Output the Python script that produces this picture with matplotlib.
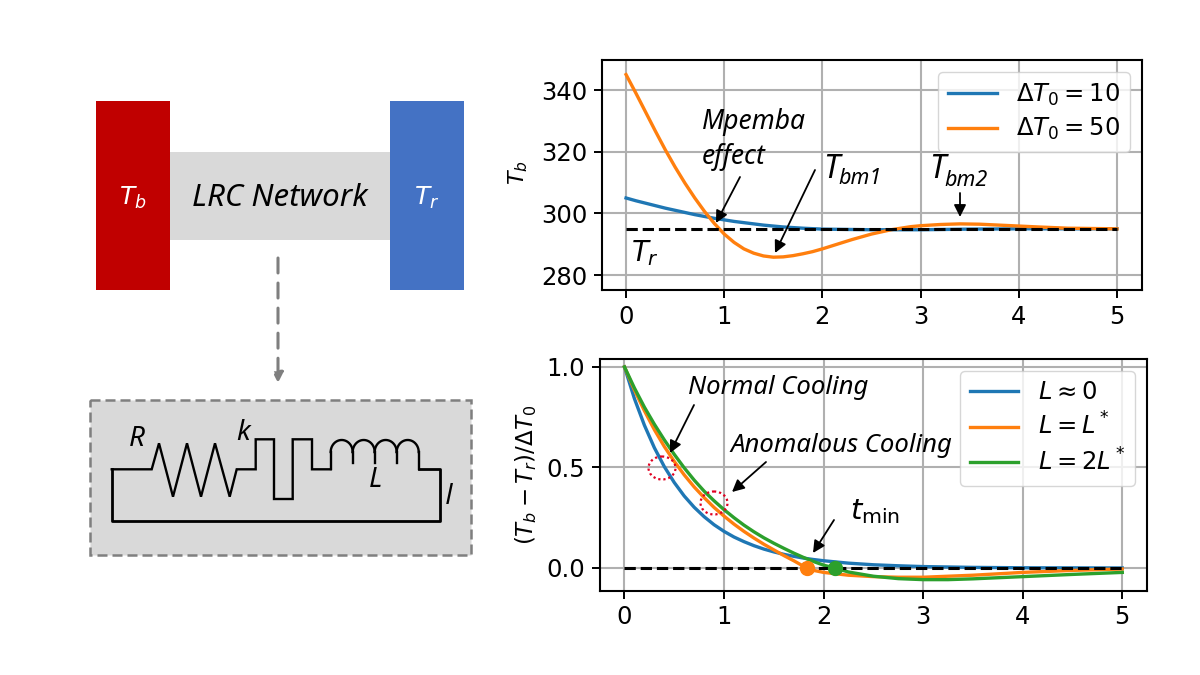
import numpy as np
import matplotlib
matplotlib.use('Agg')
import matplotlib.pyplot as plt
from matplotlib.patches import Rectangle, Ellipse

plt.rcParams['mathtext.fontset'] = 'dejavusans'

# top panel
t_top_blue = [0, 0.1, 0.2, 0.3, 0.4, 0.5, 0.6, 0.7, 0.8, 0.9, 1, 1.1, 1.2, 1.3, 1.4, 1.5, 1.6, 1.8, 2, 2.5, 3, 3.5, 4, 5]
T_blue = [305, 304.1, 303.3, 302.5, 301.7, 301, 300.3, 299.6, 299, 298.4, 297.9, 297.4, 297, 296.6, 296.2, 295.9,
          295.6, 295.2, 294.9, 294.7, 294.7, 294.9, 295, 295]
t_top_orange = [0, 0.1, 0.2, 0.3, 0.4, 0.5, 0.6, 0.7, 0.8, 0.9, 1.0, 1.1, 1.2, 1.3, 1.4, 1.5, 1.6, 1.7,
                1.8, 1.9, 2.0, 2.1, 2.2, 2.3, 2.4, 2.5, 2.6, 2.7, 2.8, 2.9, 3.0, 3.2, 3.4, 3.6, 3.8, 4.0, 4.2, 4.5, 5]
T_orange = [345, 339, 332.8, 326.6, 320.6, 315, 309.8, 305, 300.6, 296.7, 293.3, 290.6, 288.5, 287.1, 286.2,
            285.8, 285.9, 286.3, 286.9, 287.6, 288.5, 289.5, 290.5, 291.5, 292.4, 293.3, 294, 294.7, 295.2, 295.7,
            296, 296.4, 296.6, 296.5, 296.2, 295.9, 295.6, 295.2, 295]
T_room = 295

# bottom panel
t_blue = [0, 0.1, 0.2, 0.3, 0.4, 0.5, 0.6, 0.7, 0.8, 0.9, 1, 1.1, 1.2, 1.3, 1.4, 1.5, 1.6, 1.7, 1.8, 1.9, 2,
          2.25, 2.5, 2.75, 3, 3.5, 4, 5]
y_blue = [1, 0.842, 0.71, 0.598, 0.504, 0.425, 0.358, 0.302, 0.255, 0.215, 0.182, 0.154, 0.131, 0.111, 0.094, 0.08,
          0.068, 0.058, 0.049, 0.042, 0.036, 0.024, 0.016, 0.011, 0.007, 0.003, 0.001, 0]
t_orange = [0, 0.1, 0.2, 0.3, 0.4, 0.5, 0.6, 0.7, 0.8, 0.9, 1, 1.1, 1.2, 1.3, 1.4, 1.5, 1.6, 1.7, 1.8, 1.83, 1.9, 2,
            2.25, 2.5, 2.75, 3, 3.5, 4, 4.5, 5]
y_orange = [1, 0.885, 0.782, 0.688, 0.604, 0.53, 0.463, 0.403, 0.35, 0.301, 0.258, 0.218, 0.182, 0.149, 0.118, 0.09,
            0.062, 0.036, 0.008, 0, -0.012, -0.022, -0.036, -0.043, -0.046, -0.046, -0.036, -0.022, -0.012, -0.005]
t_green = [0, 0.1, 0.2, 0.3, 0.4, 0.5, 0.6, 0.7, 0.8, 0.9, 1, 1.1, 1.2, 1.3, 1.4, 1.5, 1.6, 1.7, 1.8, 1.9, 2, 2.11,
           2.25, 2.5, 2.75, 3, 3.25, 3.5, 4, 4.5, 5]
y_green = [1, 0.895, 0.8, 0.715, 0.637, 0.565, 0.498, 0.437, 0.382, 0.334, 0.29, 0.25, 0.213, 0.18, 0.15, 0.123,
           0.098, 0.074, 0.052, 0.032, 0.014, 0, -0.02, -0.041, -0.053, -0.058, -0.058, -0.054, -0.043, -0.032, -0.022]
t_min_orange = 1.83
t_min_green = 2.11

top_ticks = [280, 300, 320, 340]
bottom_ticks = [0.0, 0.5, 1.0]
x_ticks = [0, 1, 2, 3, 4, 5]

# circuit outline in picture pixels
wire_a_x = [111.7, 151.7, 159, 173, 187, 201, 215, 229.7, 236.7, 255.7, 255.7, 274, 274, 292.7, 292.7, 312, 312, 330.7]
wire_a_y = [469.3, 469.3, 443.3, 496.7, 443.3, 496.7, 443.3, 496.7, 469.3, 469.3, 439.3, 439.3, 499, 499, 439.3, 439.3, 469.3, 469.3]
wire_b_x = [418.7, 440, 440, 111.7, 111.7]
wire_b_y = [469.3, 469.3, 521.3, 521.3, 469.3]
coil_starts = [330.7, 352.7, 374.7, 396.7]

fig = plt.figure(figsize=(12, 6.75), dpi=100)
W, H = 1200, 675

def axes_px(l, t, r, b):
    return fig.add_axes([l / W, 1 - b / H, (r - l) / W, (b - t) / H])

ax1 = axes_px(602, 59.5, 1142, 290.5)
ax1.plot(t_top_blue, T_blue, color='C0', lw=2.4, label=r'$\Delta T_0 = 10$')
ax1.plot(t_top_orange, T_orange, color='C1', lw=2.4, label=r'$\Delta T_0 = 50$')
ax1.plot([0, 5], [T_room, T_room], 'k--', lw=2.2)
ax1.set_xlim(-0.245, 5.255)
ax1.set_ylim(275, 349.9)
ax1.set_yticks(top_ticks)
ax1.set_xticks(x_ticks)
ax1.grid(True, color='#b0b0b0', lw=1.5)
ax1.tick_params(labelsize=17.5, width=1.4, length=5.5, pad=5)
ax1.legend(loc='upper right', fontsize=17.5, labelspacing=0.35)

ax2 = axes_px(600, 358.5, 1147, 590.5)
ax2.plot(t_blue, y_blue, color='C0', lw=2.4, label=r'$L \approx 0$')
ax2.plot(t_orange, y_orange, color='C1', lw=2.4, label=r'$L = L^*$')
ax2.plot(t_green, y_green, color='C2', lw=2.4, label=r'$L = 2L^*$')
ax2.plot([0, 5], [0, 0], 'k--', lw=2.2)
ax2.plot(t_min_orange, 0, 'o', color='C1', ms=10)
ax2.plot(t_min_green, 0, 'o', color='C2', ms=10)
ax2.set_xlim(-0.246, 5.248)
ax2.set_ylim(-0.112, 1.042)
ax2.set_yticks(bottom_ticks)
ax2.set_xticks(x_ticks)
ax2.grid(True, color='#b0b0b0', lw=1.5)
ax2.tick_params(labelsize=17.5, width=1.4, length=5.5, pad=5)
ax2.legend(loc='upper right', fontsize=17.5, labelspacing=0.35)
for ax in (ax1, ax2):
    for s in ax.spines.values():
        s.set_linewidth(1.5)

# overlay in pixels for the diagram and the notes
ov = fig.add_axes([0, 0, 1, 1], zorder=5)
ov.set_xlim(0, W)
ov.set_ylim(H, 0)
ov.axis('off')
ov.patch.set_alpha(0)

ov.text(518, 173, r'$T_b$', fontsize=16, rotation=90, ha='center', va='center')
ov.text(526, 475, r'$(T_b - T_r)/\Delta T_0$', fontsize=16.5, rotation=90, ha='center', va='center')

ov.add_patch(Rectangle((170, 152), 220, 88, color='#d9d9d9', lw=0))
ov.add_patch(Rectangle((96, 101), 74, 189, color='#c00000', lw=0))
ov.add_patch(Rectangle((390, 101), 74, 189, color='#4472c4', lw=0))
ov.add_patch(Rectangle((90, 400), 381, 155, fc='#d9d9d9', ec='#7f7f7f', lw=1.8, ls=(0, (4, 2))))

ov.annotate('', xy=(278, 383), xytext=(278, 258),
            arrowprops=dict(arrowstyle='-|>', color='#7f7f7f', lw=2.2, ls=(0, (4.9, 3.3)), mutation_scale=15, shrinkA=0, shrinkB=0))

ital = dict(family='Noto Sans', style='italic', color='black')
ov.text(280, 198, 'LRC Network', fontsize=22.5, ha='center', va='center', **ital)
ov.text(133, 198, r'$T_b$', fontsize=18, color='white', ha='center', va='center')
ov.text(427, 198, r'$T_r$', fontsize=18, color='white', ha='center', va='center')

ov.plot(wire_a_x, wire_a_y, color='black', lw=1.7, solid_joinstyle='miter')
ov.plot(wire_b_x, wire_b_y, color='black', lw=2)
phi = np.linspace(np.pi, 0, 30)
for i, x0 in enumerate(coil_starts):
    ov.plot(x0 + 11 + 11 * np.cos(phi), 452 - 12 * np.sin(phi), color='black', lw=1.7)
for x0 in [330.7, 352.7, 374.7, 396.7, 418.7]:
    low = 469.3 if x0 in (330.7, 418.7) else 463
    ov.plot([x0, x0], [452, low], color='black', lw=1.7)

ov.text(137, 439, 'R', fontsize=20, ha='center', va='center', **ital)
ov.text(243, 433, 'k', fontsize=20, ha='center', va='center', **ital)
ov.text(375, 480, 'L', fontsize=20, ha='center', va='center', **ital)
ov.text(449, 496, 'I', fontsize=21, ha='center', va='center', family='Open Sans', style='italic')

# notes on the top panel
ov.text(702, 122, 'Mpemba', fontsize=19, ha='left', va='center', **ital)
ov.text(702, 157, 'effect', fontsize=19, ha='left', va='center', **ital)
ov.text(823, 169, 'T', fontsize=23, ha='left', va='center', **ital)
ov.text(838, 179, 'bm1', fontsize=15.5, ha='left', va='center', **ital)
ov.text(929, 169, 'T', fontsize=23, ha='left', va='center', **ital)
ov.text(944, 180, 'bm2', fontsize=15.5, ha='left', va='center', **ital)
ov.text(631, 253, r'$T_r$', fontsize=20, ha='left', va='center')

# notes on the bottom panel
ov.text(688, 388, 'Normal Cooling', fontsize=18.5, ha='left', va='center', **ital)
ov.text(730, 445, 'Anomalous Cooling', fontsize=18.5, ha='left', va='center', **ital)
ov.text(850, 512, r'$t_{\mathrm{min}}$', fontsize=21, ha='left', va='center')

arrow = dict(arrowstyle='-|>', color='black', lw=1.3, mutation_scale=18, shrinkA=0, shrinkB=0)
notes = [((716, 223), (740, 177)), ((775, 253), (815, 170)), ((960, 217), (960, 193)),
         ((670, 453), (694, 405)), ((732, 492), (766, 462)), ((813, 553), (834, 520))]
for tip, tail in notes:
    ov.annotate('', xy=tip, xytext=tail, arrowprops=arrow)

for cx, cy in [(662, 468), (714, 503)]:
    ov.add_patch(Ellipse((cx, cy), 27, 23, fc='none', ec='#e00020', lw=1.6, ls=(0, (1, 1.3))))

fig.savefig('out.png', dpi=100)
